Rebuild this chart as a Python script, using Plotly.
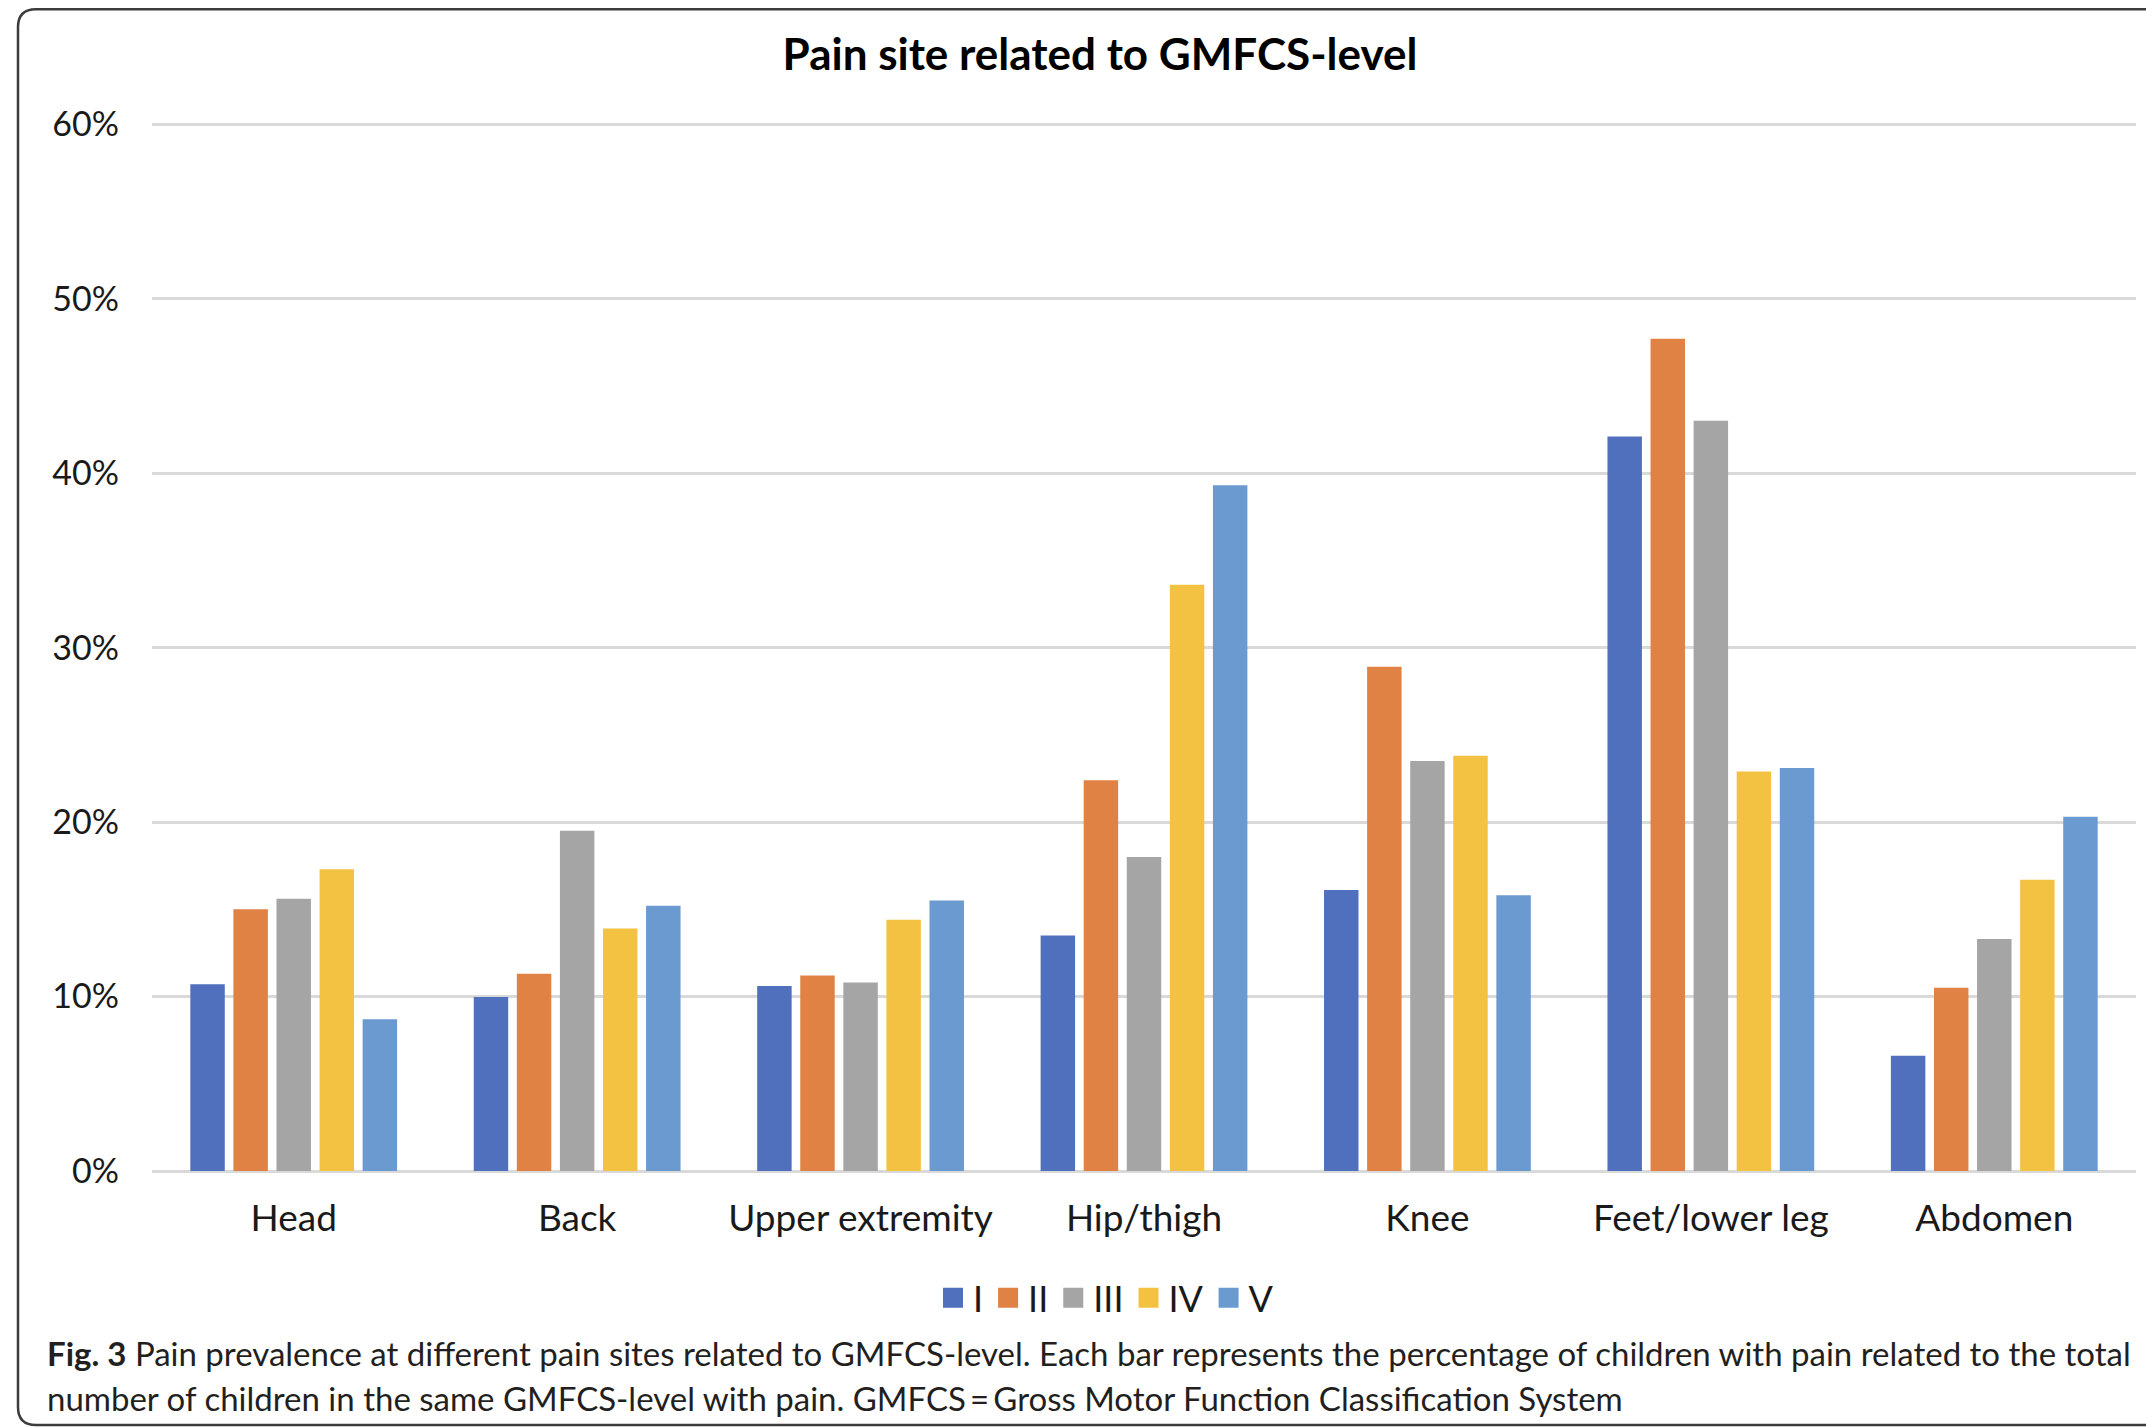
import plotly.graph_objects as go

# ---------------- data ----------------
categories = ["Head", "Back", "Upper extremity", "Hip/thigh", "Knee", "Feet/lower leg", "Abdomen"]
levels = ["I", "II", "III", "IV", "V"]
level_I = [10.7, 9.97, 10.6, 13.5, 16.1, 42.1, 6.6]
level_II = [15.0, 11.3, 11.2, 22.4, 28.9, 47.7, 10.5]
level_III = [15.6, 19.5, 10.8, 18.0, 23.5, 43.0, 13.3]
level_IV = [17.3, 13.9, 14.4, 33.6, 23.8, 22.9, 16.7]
level_V = [8.7, 15.2, 15.5, 39.3, 15.8, 23.1, 20.3]
series_values = [level_I, level_II, level_III, level_IV, level_V]
y_ticks = [0, 10, 20, 30, 40, 50, 60]
y_tick_labels = ["0%", "10%", "20%", "30%", "40%", "50%", "60%"]

colors = ["#5070BE", "#DF8244", "#A5A5A5", "#F4C243", "#6A9ACF"]

title_text = "Pain site related to GMFCS-level"
caption_line1 = ("<b>Fig. 3</b> Pain prevalence at different pain sites related to GMFCS-level. "
                 "Each bar represents the percentage of children with pain related to the total")
caption_line2 = ("number of children in the same GMFCS-level with pain. "
                 "GMFCS\u2009=\u2009Gross Motor Function Classification System")

# ---------------- layout geometry ----------------
# positions below are page pixels; the page body has an 8px margin
OFF = 8
PAGE_W, PAGE_H = 2154, 1427
W, H = PAGE_W - OFF, PAGE_H - OFF
Y_TOP = 60.3                       # a little headroom so the 60% gridline is drawn
PLOT_L, PLOT_R, PLOT_B = 152, 2136, 1171      # page pixels
Y60 = 124                                      # page y of the 60% gridline
scale = (PLOT_B - Y60) / 60.0
PLOT_T = Y60 - (Y_TOP - 60) * scale
L, T = PLOT_L - OFF, PLOT_T - OFF
R, B = W - (PLOT_R - OFF), H - (PLOT_B - OFF)
PW, PH = W - L - R, H - T - B


def px(x):
    return (x - OFF - L) / PW


def py(y):
    return (H - B - (y - OFF)) / PH


FONT = "Lato, 'Open Sans', sans-serif"
TXT = "#1a1a1a"

fig = go.Figure()
for name, vals, col in zip(levels, series_values, colors):
    fig.add_trace(go.Bar(
        x=categories, y=vals, name=name, marker_color=col,
        marker_line_width=0, legendgroup=name, showlegend=False,
        hovertemplate="%{x}<br>" + name + ": %{y:.1f}%<extra></extra>",
    ))
    # legend proxy with a larger square symbol
    fig.add_trace(go.Scatter(
        x=[None], y=[None], mode="markers", name=name, legendgroup=name,
        marker=dict(symbol="square", size=16, color=col,
                    line=dict(color=col, width=4)),
        showlegend=True, hoverinfo="skip",
    ))

fig.update_layout(
    width=W, height=H,
    margin=dict(l=L, r=R, t=T, b=B),
    paper_bgcolor="white", plot_bgcolor="white",
    barmode="group", bargap=0.24, bargroupgap=0.2,
    font=dict(family=FONT, color=TXT),
    title=dict(text="<b>" + title_text + "</b>", x=(1100 - OFF) / W, xref="container",
               y=1 - (55 - OFF) / H, yref="container", xanchor="center", yanchor="middle",
               font=dict(size=44, color="#000000", family=FONT)),
    legend=dict(orientation="h", x=px(1106), y=py(1298), xanchor="center",
                yanchor="middle", font=dict(size=36, color=TXT, family=FONT),
                bgcolor="rgba(0,0,0,0)", itemclick="toggle"),
    showlegend=True,
)

fig.update_xaxes(
    showgrid=False, showline=False, ticks="", zeroline=False,
    tickfont=dict(size=37, color=TXT, family=FONT),
    ticklabelstandoff=22, fixedrange=True,
)
fig.update_yaxes(
    range=[0, Y_TOP], tickvals=y_ticks, ticktext=y_tick_labels,
    showgrid=True, gridcolor="#D9D9D9", gridwidth=2.5,
    zeroline=True, zerolinecolor="#D9D9D9", zerolinewidth=3,
    showline=False, ticks="", tickfont=dict(size=34, color=TXT, family=FONT),
    ticklabelstandoff=32, fixedrange=True,
)

# caption
fig.add_annotation(text=caption_line1, xref="paper", yref="paper",
                   x=px(45), y=py(1353), xanchor="left", yanchor="middle",
                   showarrow=False, font=dict(size=33, color="#231F20", family=FONT))
fig.add_annotation(text=caption_line2, xref="paper", yref="paper",
                   x=px(45), y=py(1398), xanchor="left", yanchor="middle",
                   showarrow=False, font=dict(size=33, color="#231F20", family=FONT))

# rounded frame around the chart (open on the right)
x0, y0, y1, rad, xr = 18, 9, 1425, 18, 2180
path = (f"M {px(xr)},{py(y0)} L {px(x0 + rad)},{py(y0)} "
        f"Q {px(x0)},{py(y0)} {px(x0)},{py(y0 + rad)} "
        f"L {px(x0)},{py(y1 - rad)} "
        f"Q {px(x0)},{py(y1)} {px(x0 + rad)},{py(y1)} "
        f"L {px(xr)},{py(y1)}")
fig.add_shape(type="path", path=path, xref="paper", yref="paper",
              line=dict(color="#3c3c3c", width=2.5), layer="above")

fig.write_html("out.html")
